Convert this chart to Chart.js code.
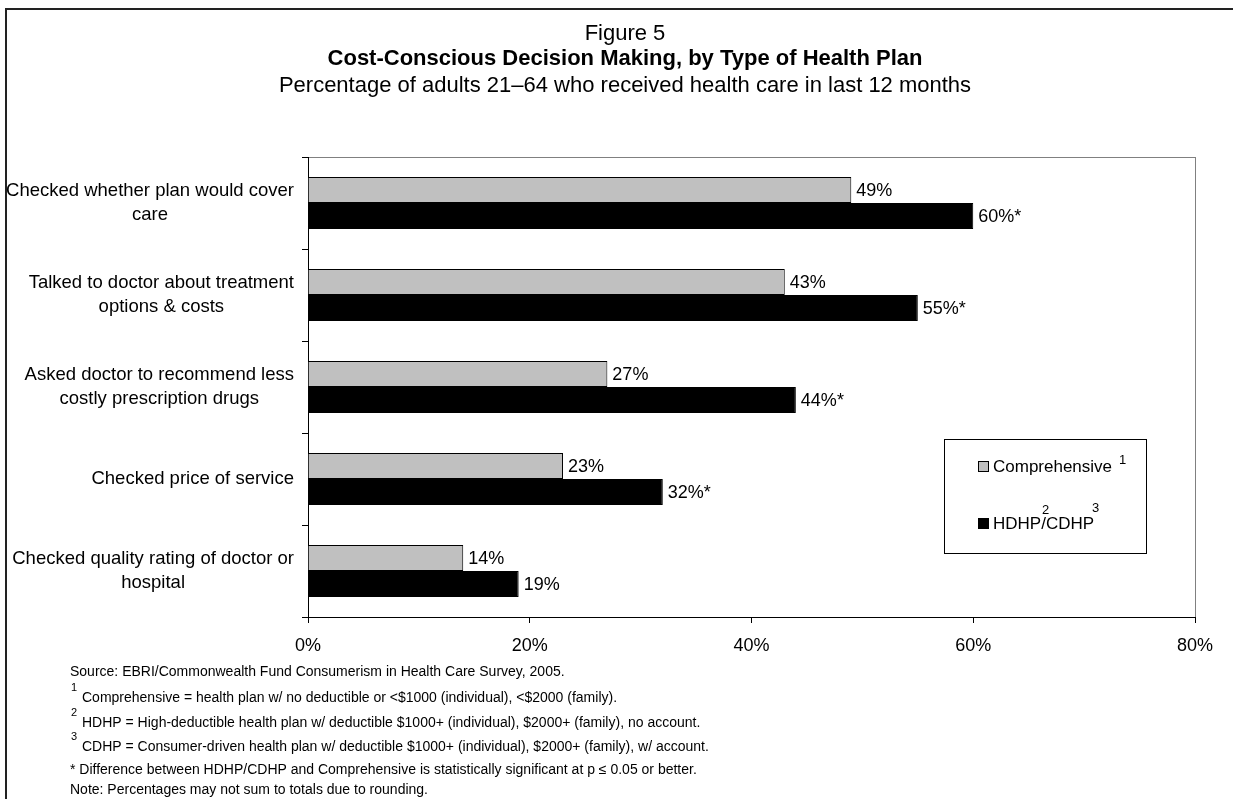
<!DOCTYPE html>
<html>
<head>
<meta charset="utf-8">
<script src="https://cdn.jsdelivr.net/npm/chart.js@4.4.1/dist/chart.umd.min.js"></script>
<style>
    html, body { margin: 0; padding: 0; background: #fff; }
    canvas { display: block; }
</style>
</head>
<body>
<canvas id="myChart" width="1233" height="799"></canvas>
<script>
const categories = [
    ['Checked whether plan would cover', 'care'],
    ['Talked to doctor about treatment', 'options & costs'],
    ['Asked doctor to recommend less', 'costly prescription drugs'],
    ['Checked price of service'],
    ['Checked quality rating of doctor or', 'hospital']
];
const comprehensive = [49, 43, 27, 23, 14];
const hdhpCdhp = [60, 55, 44, 32, 19];
const significant = [true, true, true, true, false];
const xTicks = [0, 20, 40, 60, 80];

const titleLines = [
    'Figure 5',
    'Cost-Conscious Decision Making, by Type of Health Plan',
    'Percentage of adults 21\u201364 who received health care in last 12 months'
];
const footnotes = [
    ['', 'Source: EBRI/Commonwealth Fund Consumerism in Health Care Survey, 2005.'],
    ['1', 'Comprehensive = health plan w/ no deductible or <$1000 (individual), <$2000 (family).'],
    ['2', 'HDHP = High-deductible health plan w/ deductible $1000+ (individual), $2000+ (family), no account.'],
    ['3', 'CDHP = Consumer-driven health plan w/ deductible $1000+ (individual), $2000+ (family), w/ account.'],
    ['', '* Difference between HDHP/CDHP and Comprehensive is statistically significant at p \u2264 0.05 or better.'],
    ['', 'Note: Percentages may not sum to totals due to rounding.']
];

const FONT = '"Liberation Sans", Arial, Helvetica, sans-serif';

// frame, title, y labels, legend, footnotes
const decorations = {
    id: 'decorations',
    beforeDraw(chart) {
        const c = chart.ctx;
        const a = chart.chartArea;
        c.save();
        c.fillStyle = '#fff';
        c.fillRect(0, 0, chart.width, chart.height);
        // outer frame
        c.strokeStyle = '#222';
        c.lineWidth = 2;
        c.beginPath();
        c.moveTo(6, chart.height);
        c.lineTo(6, 9);
        c.lineTo(chart.width, 9);
        c.stroke();
        // plot box
        c.strokeStyle = '#808080';
        c.lineWidth = 1;
        c.strokeRect(a.left + 0.5, a.top + 0.5, a.right - a.left, a.bottom - a.top);
        c.restore();
    },
    afterDatasetsDraw(chart) {
        const c = chart.ctx;
        c.save();
        c.font = '18px ' + FONT;
        c.fillStyle = '#000';
        c.textBaseline = 'middle';
        c.textAlign = 'left';
        chart.data.datasets.forEach((ds, di) => {
            chart.getDatasetMeta(di).data.forEach((bar, i) => {
                let txt = ds.data[i] + '%';
                if (di === 1 && significant[i]) txt += '*';
                c.fillText(txt, bar.x + 5, bar.y + 1);
            });
        });
        c.restore();
    },
    afterDraw(chart) {
        const c = chart.ctx;
        const yScale = chart.scales.y;
        const cx = 625;
        c.save();
        c.fillStyle = '#000';
        c.textAlign = 'center';
        c.textBaseline = 'middle';
        c.font = '22px ' + FONT;
        c.fillText(titleLines[0], cx, 34);
        c.font = 'bold 22px ' + FONT;
        c.fillText(titleLines[1], cx, 59);
        c.font = '22px ' + FONT;
        c.fillText(titleLines[2], cx, 86);

        // category labels, right aligned block with centred lines
        c.font = '18.5px ' + FONT;
        categories.forEach((lines, i) => {
            const y = yScale.getPixelForValue(i);
            const w = Math.max(...lines.map(l => c.measureText(l).width));
            const mid = 294 - w / 2;
            const lh = 24;
            const y0 = y - (lines.length - 1) * lh / 2;
            lines.forEach((l, k) => c.fillText(l, mid, y0 + k * lh));
        });

        // legend
        c.textAlign = 'left';
        c.strokeStyle = '#000';
        c.lineWidth = 1;
        c.strokeRect(944.5, 439.5, 202, 114);
        const rows = [467, 524];
        chart.data.datasets.forEach((ds, di) => {
            const y = rows[di];
            c.fillStyle = ds.backgroundColor;
            c.fillRect(978, y - 6, 11, 11);
            c.strokeRect(978.5, y - 5.5, 10, 10);
            c.fillStyle = '#000';
            c.font = '17px ' + FONT;
            c.fillText(ds.label, 993, y);
        });
        c.font = '13px ' + FONT;
        c.fillText('1', 1119, rows[0] - 7);
        c.fillText('2', 1042, rows[1] - 14);
        c.fillText('3', 1092, rows[1] - 16);

        // footnotes
        const fy = [672, 698, 723, 747, 770, 790];
        footnotes.forEach((f, i) => {
            if (f[0]) {
                c.font = '11px ' + FONT;
                c.fillText(f[0], 71, fy[i] - 10);
                c.font = '14px ' + FONT;
                c.fillText(f[1], 82, fy[i]);
            } else {
                c.font = '14px ' + FONT;
                c.fillText(f[1], 70, fy[i]);
            }
        });
        c.restore();
    }
};

const ctx = document.getElementById('myChart');

new Chart(ctx, {
    type: 'bar',
    data: {
        labels: categories.map(l => l.join(' ')),
        datasets: [{
            label: 'Comprehensive',
            data: comprehensive,
            backgroundColor: '#c0c0c0',
            borderColor: '#000',
            borderWidth: 1
        }, {
            label: 'HDHP/CDHP',
            data: hdhpCdhp,
            backgroundColor: '#000',
            borderColor: '#000',
            borderWidth: 1
        }]
    },
    options: {
        indexAxis: 'y',
        responsive: false,
        animation: false,
        devicePixelRatio: 1,
        categoryPercentage: 0.565,
        barPercentage: 1,
        layout: {
            padding: { top: 157, right: 38, left: 0, bottom: 0 }
        },
        plugins: {
            legend: { display: false },
            title: { display: false },
            tooltip: { enabled: false }
        },
        scales: {
            x: {
                min: xTicks[0],
                max: xTicks[xTicks.length - 1],
                afterBuildTicks: scale => {
                    scale.ticks = xTicks.map(v => ({ value: v }));
                },
                afterFit: scale => { scale.height = 182; },
                grid: {
                    drawOnChartArea: false,
                    tickLength: 6,
                    color: '#000'
                },
                border: { color: '#000', width: 1 },
                ticks: {
                    padding: 12,
                    color: '#000',
                    font: { family: FONT, size: 18 },
                    callback: v => v + '%'
                }
            },
            y: {
                afterFit: scale => { scale.width = 308; },
                grid: {
                    drawOnChartArea: false,
                    tickLength: 6,
                    color: '#000',
                    offset: true
                },
                border: { color: '#000', width: 1 },
                ticks: { display: false }
            }
        }
    },
    plugins: [decorations]
});
</script>
</body>
</html>
